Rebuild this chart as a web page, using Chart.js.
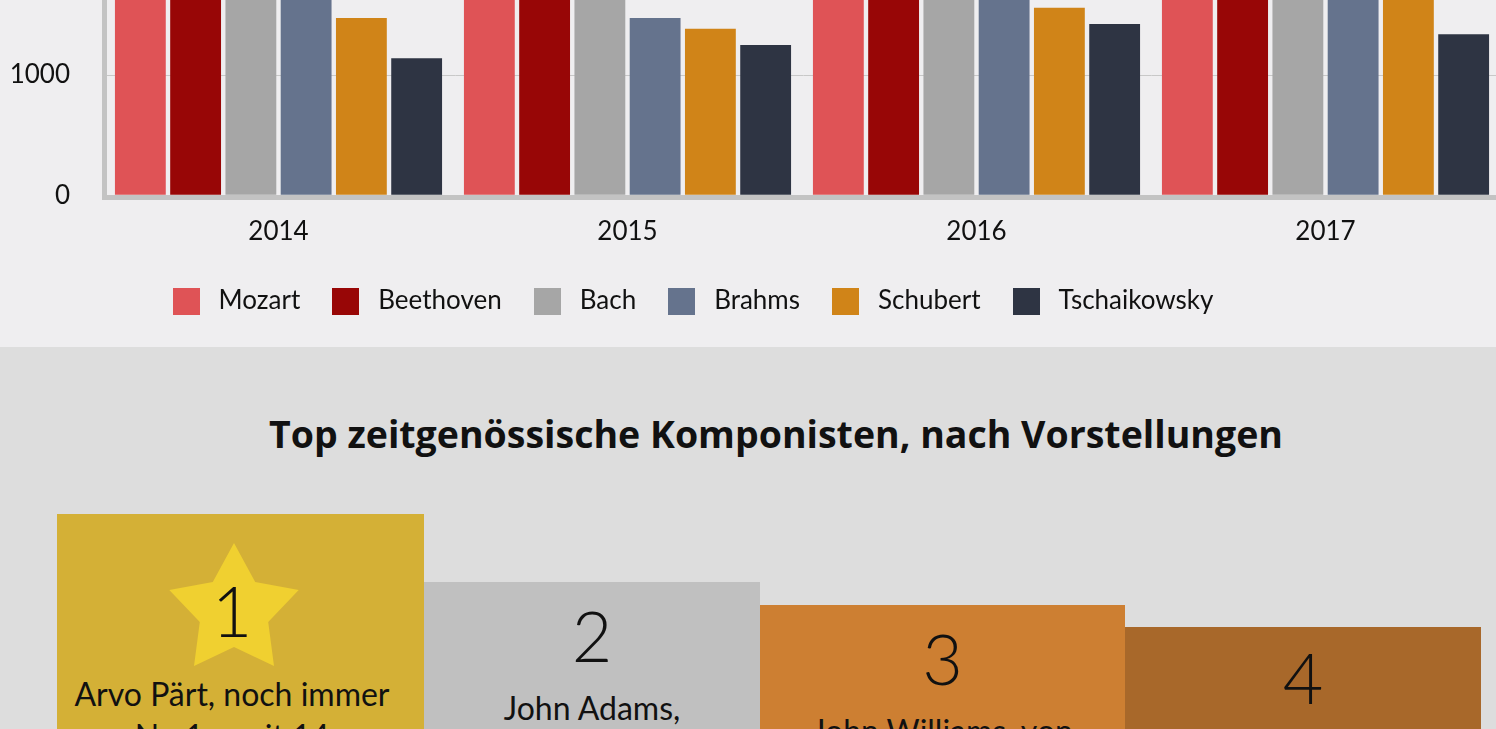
<!DOCTYPE html>
<html lang="de">
<head>
<meta charset="utf-8">
<title>Komponisten</title>
<script src="https://cdn.jsdelivr.net/npm/chart.js@4.4.1/dist/chart.umd.min.js"></script>
<style>
  html, body { margin: 0; padding: 0; }
  body { width: 1496px; height: 729px; overflow: hidden; position: relative; background: #dddddd; font-family: Lato, "Open Sans", sans-serif; color: #111; }
  #top { position: absolute; left: 0; top: 0; width: 1496px; height: 347px; background: #efeef0; overflow: hidden; }
  #chartBox { position: absolute; left: -120px; top: -335px; width: 1620px; height: 659px; }
  #bottom { position: absolute; left: 0; top: 347px; width: 1496px; height: 382px; background: #dddddd; overflow: hidden; }
  #bottom h2 { position: absolute; left: 0; top: 68px; width: 1552px; margin: 0; text-align: center; font-family: "Open Sans", Lato, sans-serif; font-size: 37.5px; line-height: 37px; font-weight: 700; color: #111; }
  .col { position: absolute; bottom: -20px; box-sizing: border-box; }
  .num { position: absolute; left: 0; right: 0; top: 18px; text-align: center; font-size: 70px; line-height: 70px; font-weight: 300; }
  .txt { position: absolute; left: 0; right: 0; top: 105px; text-align: center; font-size: 32px; line-height: 42px; }
  .star { position: absolute; left: 108px; top: 28px; }
</style>
</head>
<body>
<div id="top">
  <div id="chartBox"><canvas id="composerChart"></canvas></div>
</div>
<div id="bottom">
  <h2 id="podiumTitle"></h2>
  <div id="podium"></div>
</div>
<script>
// Aufführungen pro Jahr, nach Komponist
const years = ['2014', '2015', '2016', '2017'];
const composers = ['Mozart', 'Beethoven', 'Bach', 'Brahms', 'Schubert', 'Tschaikowsky'];
const mozart = [3350, 3300, 3450, 3400];
const beethoven = [2700, 2650, 2900, 2800];
const bach = [2150, 2200, 2050, 2250];
const brahms = [1750, 1475, 1800, 1850];
const schubert = [1475, 1385, 1560, 1700];
const tschaikowsky = [1140, 1250, 1425, 1340];
const yTicks = [0, 1000, 2000, 3000, 4000];
const barColors = ['#df5356', '#980606', '#a6a6a6', '#65738d', '#d08418', '#2e3443'];

// Podium
const podiumTitle = 'Top zeitgenössische Komponisten, nach Vorstellungen';
const ranks = ['1', '2', '3', '4'];
const podiumText = ['Arvo Pärt, noch immer<br>Nr. 1 – mit 14 aufgeführten Werken', 'John Adams,', 'John Williams, von', ''];
const podiumColors = ['#d4b036', '#c0c0c0', '#cd7f32', '#a8682a'];

const series = [mozart, beethoven, bach, brahms, schubert, tschaikowsky];

// square swatches for the legend
const swatches = barColors.map(c => {
  const cv = document.createElement('canvas');
  cv.width = 27;
  cv.height = 27;
  const g = cv.getContext('2d');
  g.fillStyle = c;
  g.fillRect(0, 0, 27, 27);
  return cv;
});

Chart.defaults.font.family = 'Lato, "Open Sans", sans-serif';
Chart.defaults.color = '#111';

const ctx = document.getElementById('composerChart').getContext('2d');
new Chart(ctx, {
  type: 'bar',
  data: {
    labels: years,
    datasets: composers.map((name, i) => ({
      label: name,
      data: series[i],
      backgroundColor: barColors[i],
      borderWidth: 0,
      barPercentage: 0.92,
      categoryPercentage: 0.95
    }))
  },
  options: {
    responsive: true,
    maintainAspectRatio: false,
    devicePixelRatio: 1,
    animation: false,
    layout: { padding: 0 },
    plugins: {
      title: { display: false },
      tooltip: { enabled: false },
      legend: {
        position: 'bottom',
        labels: {
          usePointStyle: true,
          pointStyleWidth: 39,
          padding: 26,
          color: '#111',
          font: { size: 26 },
          generateLabels: chart => Chart.defaults.plugins.legend.labels.generateLabels(chart)
            .map((item, i) => Object.assign(item, { pointStyle: swatches[i], lineWidth: 0 }))
        }
      }
    },
    scales: {
      x: {
        grid: { display: false, drawTicks: false },
        border: { color: '#c3c3c3', width: 5 },
        ticks: { padding: 19, font: { size: 26 }, color: '#111' },
        afterFit: s => { s.height = 65; }
      },
      y: {
        min: -15,
        max: 4000,
        bounds: 'data',
        grid: { color: '#c8c8c8', lineWidth: 1, drawTicks: false },
        border: { color: '#c3c3c3', width: 5 },
        ticks: { padding: 34, font: { size: 26 }, color: '#111', callback: v => String(v) },
        afterBuildTicks: s => {
          s.ticks = yTicks.map(v => ({ value: v }));
          s.min = -15;
          s.max = 4000;
        },
        afterFit: s => { s.width = 224; }
      }
    }
  }
});

// podium blocks
document.getElementById('podiumTitle').textContent = podiumTitle;
const podium = document.getElementById('podium');
const colLeft = [57, 424, 760, 1125];
const colWidth = [367, 336, 365, 356];
const colTop = [167, 235, 258, 280];
const numTop = [61, 18, 18, 15];
ranks.forEach((r, i) => {
  const col = document.createElement('div');
  col.className = 'col';
  col.style.left = colLeft[i] + 'px';
  col.style.width = colWidth[i] + 'px';
  col.style.top = colTop[i] + 'px';
  col.style.background = podiumColors[i];
  let inner = '';
  if (i === 0) {
    inner += '<svg class="star" width="138" height="130" viewBox="-69 -69 138 130">' +
      '<polygon fill="#f0d030" points="' + starPoints(68, 36) + '"/></svg>';
  }
  const txtTop = i === 0 ? 159 : 105;
  const padR = i === 0 ? 17 : 0;
  inner += '<div class="num" style="top:' + numTop[i] + 'px;right:' + padR + 'px">' + r + '</div>';
  inner += '<div class="txt" style="top:' + txtTop + 'px;right:' + padR + 'px">' + podiumText[i] + '</div>';
  col.innerHTML = inner;
  podium.appendChild(col);
});

function starPoints(R, r) {
  const pts = [];
  for (let k = 0; k < 10; k++) {
    const a = -Math.PI / 2 + k * Math.PI / 5;
    const rad = k % 2 === 0 ? R : r;
    pts.push((rad * Math.cos(a)).toFixed(1) + ',' + (rad * Math.sin(a)).toFixed(1));
  }
  return pts.join(' ');
}
</script>
</body>
</html>
